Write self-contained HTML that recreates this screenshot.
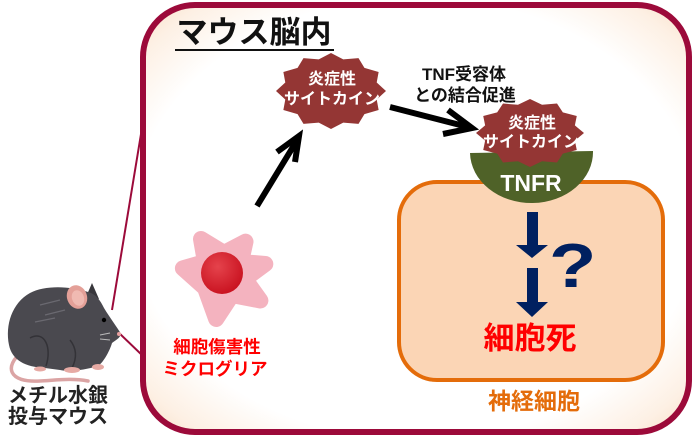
<!DOCTYPE html>
<html><head><meta charset="utf-8"><style>
html,body{margin:0;padding:0;background:#fff;}
svg{display:block;}
text{font-family:"Liberation Sans","Noto Sans CJK JP",sans-serif;font-weight:bold;}
</style></head><body>
<svg width="693" height="436" viewBox="0 0 693 436" xmlns="http://www.w3.org/2000/svg">
<defs>
<radialGradient id="bg" cx="0.5" cy="0.5" r="0.72">
<stop offset="0" stop-color="#ffffff"/>
<stop offset="0.72" stop-color="#ffffff"/>
<stop offset="0.88" stop-color="#fdf0e4"/>
<stop offset="1" stop-color="#f9dcc2"/>
</radialGradient>
<radialGradient id="nuc" cx="0.4" cy="0.35" r="0.7">
<stop offset="0" stop-color="#e5434c"/>
<stop offset="1" stop-color="#c8101e"/>
</radialGradient>
</defs>

<!-- connector lines from mouse -->
<line x1="112" y1="310" x2="142" y2="128" stroke="#9c0a3a" stroke-width="2"/>
<line x1="117" y1="331" x2="144" y2="357" stroke="#9c0a3a" stroke-width="2"/>

<!-- outer box -->
<rect x="143" y="5" width="546" height="427" rx="52" ry="52" fill="url(#bg)" stroke="#9c0a3a" stroke-width="6"/>

<!-- title -->
<text x="254" y="43" font-size="31" text-anchor="middle" fill="#111">マウス脳内</text>
<line x1="175" y1="50" x2="334" y2="50" stroke="#111" stroke-width="2"/>

<!-- cytokine 1 -->
<polygon transform="translate(331,91) scale(55,38)" fill="#943634" points="0,-1 0.223,-0.831 0.5,-0.866 0.608,-0.608 0.866,-0.5 0.831,-0.223 1,0 0.831,0.223 0.866,0.5 0.608,0.608 0.5,0.866 0.223,0.831 0,1 -0.223,0.831 -0.5,0.866 -0.608,0.608 -0.866,0.5 -0.831,0.223 -1,0 -0.831,-0.223 -0.866,-0.5 -0.608,-0.608 -0.5,-0.866 -0.223,-0.831"/>
<text x="332" y="84" font-size="16" text-anchor="middle" fill="#fff">炎症性</text>
<text x="332" y="104" font-size="16" text-anchor="middle" fill="#fff">サイトカイン</text>

<!-- arrow 1 -->
<line x1="257" y1="206" x2="296" y2="142" stroke="#000" stroke-width="6"/>
<polyline points="277,152 299,136 295,162" fill="none" stroke="#000" stroke-width="6" stroke-linejoin="miter"/>

<!-- arrow 2 -->
<line x1="390" y1="107" x2="468" y2="127" stroke="#000" stroke-width="6"/>
<polyline points="448,110 472,128 443,134" fill="none" stroke="#000" stroke-width="6" stroke-linejoin="miter"/>

<!-- TNF label -->
<text x="464" y="80" font-size="17" text-anchor="middle" fill="#111">TNF受容体</text>
<text x="465" y="101" font-size="17" text-anchor="middle" fill="#111">との結合促進</text>

<!-- neuron box -->
<rect x="399" y="182" width="264" height="198" rx="38" ry="38" fill="#fbd5b5" stroke="#e46c0a" stroke-width="4"/>

<!-- TNFR -->
<path d="M470,153 A61.5,51 0 0 0 593,151 Z" fill="#4f6228"/>
<text x="531" y="191" font-size="23" text-anchor="middle" fill="#fff">TNFR</text>

<!-- cytokine 2 -->
<polygon transform="translate(530,133) scale(54,34)" fill="#943634" points="0,-1 0.223,-0.831 0.5,-0.866 0.608,-0.608 0.866,-0.5 0.831,-0.223 1,0 0.831,0.223 0.866,0.5 0.608,0.608 0.5,0.866 0.223,0.831 0,1 -0.223,0.831 -0.5,0.866 -0.608,0.608 -0.866,0.5 -0.831,0.223 -1,0 -0.831,-0.223 -0.866,-0.5 -0.608,-0.608 -0.5,-0.866 -0.223,-0.831"/>
<text x="532" y="128" font-size="16" text-anchor="middle" fill="#fff">炎症性</text>
<text x="531" y="147" font-size="16" text-anchor="middle" fill="#fff">サイトカイン</text>

<!-- navy arrows -->
<rect x="527" y="212" width="11" height="34" fill="#002060"/>
<polygon points="516,245 548,245 532,258" fill="#002060"/>
<rect x="527" y="268" width="11" height="35" fill="#002060"/>
<polygon points="516,302 548,302 532,317" fill="#002060"/>
<text x="0" y="0" font-size="62" fill="#002060" transform="translate(549,287) scale(1.25,1)">?</text>

<text x="530" y="349" font-size="31" text-anchor="middle" fill="#ff0000">細胞死</text>
<text x="534" y="409" font-size="23" text-anchor="middle" fill="#e46c0a">神経細胞</text>

<!-- microglia -->
<polygon points="201,239 224,253 245.5,241.7 241,262 265.3,264 245,279 260.4,300.5 232,295 216.2,319 205,288 182.9,268.3 205,262" fill="#f4b3bf" stroke="#f4b3bf" stroke-width="16" stroke-linejoin="round"/>
<circle cx="222" cy="273" r="21" fill="url(#nuc)"/>
<text x="217" y="353" font-size="17.5" text-anchor="middle" fill="#ff0000">細胞傷害性</text>
<text x="215" y="375" font-size="17.5" text-anchor="middle" fill="#ff0000">ミクログリア</text>

<!-- mouse -->
<path d="M22,352 C4,366 8,383 40,381 C58,380 72,378 88,381" fill="none" stroke="#dba4a4" stroke-width="3.5" stroke-linecap="round"/>
<path d="M86,297 L92,283 L99,299 Z" fill="#38373c"/>
<path d="M121,334 C117,327 110,318 104,308 C100,300 96,294 88,292 C70,286 45,285 30,293 C12,303 5,325 9,345 C12,360 25,367 45,368 L60,370 C70,372 85,370 98,366 C104,362 110,350 112,343 C116,340 120,338 121,334 Z" fill="#4a494f"/>
<path d="M30,338 C45,330 52,348 46,366" fill="none" stroke="#333237" stroke-width="1.5"/>
<path d="M70,340 C78,350 76,360 72,368" fill="none" stroke="#333237" stroke-width="1.5"/>
<path d="M40,305 L60,300 M45,315 L65,310 M35,322 L55,318" stroke="#6a6970" stroke-width="1.2"/>
<ellipse cx="77" cy="297" rx="10" ry="12" transform="rotate(-20 77 297)" fill="#e4a098"/>
<ellipse cx="78" cy="298" rx="6" ry="8" transform="rotate(-20 78 298)" fill="#f0bab2"/>
<circle cx="104" cy="320" r="2.2" fill="#000"/>
<circle cx="119" cy="334" r="2" fill="#e8a0a0"/>
<ellipse cx="72" cy="370" rx="8" ry="3" fill="#e6aaa4"/>
<ellipse cx="98" cy="367" rx="6" ry="3" fill="#e6aaa4"/>
<ellipse cx="40" cy="369" rx="6" ry="2.5" fill="#e6aaa4"/>
<path d="M100,335 L110,333 M100,339 L110,340" stroke="#bbb" stroke-width="1"/>

<text x="8" y="402" font-size="20" fill="#222">メチル水銀</text>
<text x="8" y="423" font-size="20" fill="#222">投与マウス</text>
</svg>
</body></html>
